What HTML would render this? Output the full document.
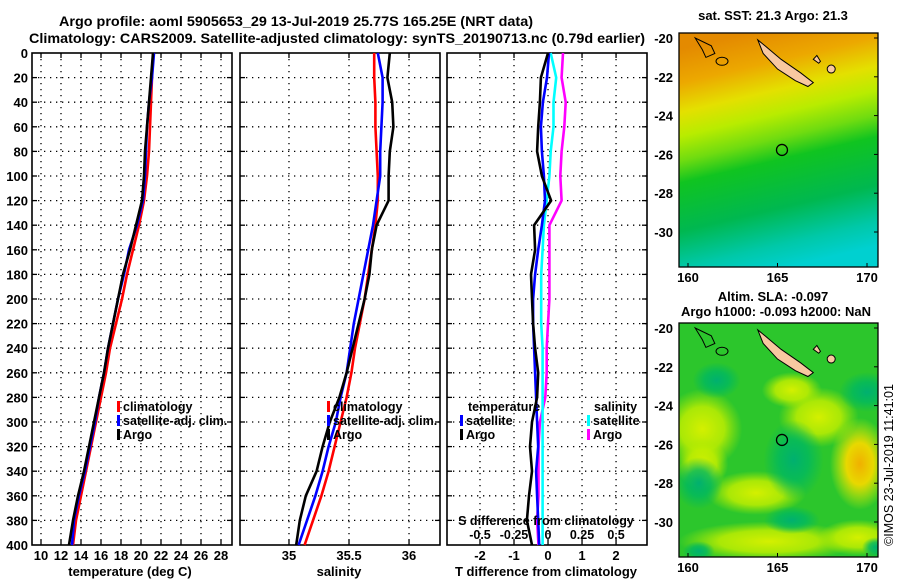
<!DOCTYPE html>
<html><head><meta charset="utf-8"><style>
html,body{margin:0;padding:0;background:#fff;}
svg{display:block;font-family:"Liberation Sans",sans-serif;font-weight:bold;}
</style></head><body>
<svg id="fig" width="900" height="580" viewBox="0 0 900 580" xmlns="http://www.w3.org/2000/svg">
<defs>
<radialGradient id="g1"><stop offset="0" stop-color="#d4f000"/><stop offset="0.55" stop-color="#c0ee00" stop-opacity="0.85"/><stop offset="1" stop-color="#a8e800" stop-opacity="0"/></radialGradient>
<radialGradient id="g2"><stop offset="0" stop-color="#00b070"/><stop offset="0.5" stop-color="#00b860" stop-opacity="0.8"/><stop offset="1" stop-color="#00b860" stop-opacity="0"/></radialGradient>
<radialGradient id="g3"><stop offset="0" stop-color="#f0b000"/><stop offset="0.45" stop-color="#e8d800"/><stop offset="1" stop-color="#d8f000" stop-opacity="0"/></radialGradient>
<linearGradient id="sst" x1="0.35" y1="0" x2="0.55" y2="1">
<stop offset="0" stop-color="#e48a00"/><stop offset="0.14" stop-color="#eca800"/><stop offset="0.26" stop-color="#e4e000"/><stop offset="0.36" stop-color="#b8ec00"/><stop offset="0.46" stop-color="#70dc10"/><stop offset="0.55" stop-color="#10c420"/><stop offset="0.75" stop-color="#00b850"/><stop offset="0.9" stop-color="#00c8a8"/><stop offset="1" stop-color="#00d0d0"/></linearGradient>
<clipPath id="clipTop"><rect x="679" y="33" width="199" height="234"/></clipPath>
<clipPath id="clipBot"><rect x="679" y="323" width="199" height="234"/></clipPath>
</defs>
<text x="296" y="26" text-anchor="middle" font-size="14" textLength="474" lengthAdjust="spacingAndGlyphs">Argo profile: aoml 5905653_29 13-Jul-2019 25.77S 165.25E (NRT data)</text>
<text x="337" y="43" text-anchor="middle" font-size="14" textLength="616" lengthAdjust="spacingAndGlyphs">Climatology: CARS2009. Satellite-adjusted climatology: synTS_20190713.nc (0.79d earlier)</text>
<g id="panels"></g>
<g id="maps"></g>
</svg>
<script>
// ---- data (depth in m) ----
const depths=[0,20,40,60,80,100,120,140,160,180,200,220,240,260,280,300,320,340,360,380,400];
const tempArgo=[21.2,21.0,20.8,20.6,20.4,20.3,20.1,19.5,18.9,18.2,17.7,17.2,16.7,16.3,15.8,15.3,14.8,14.3,13.7,13.2,12.8];
const tempSat=[21.3,21.1,20.8,20.6,20.5,20.4,20.2,19.6,18.8,18.3,17.7,17.2,16.7,16.3,15.8,15.4,14.9,14.4,13.8,13.3,13.1];
const tempClim=[21.2,21.1,21.0,20.9,20.8,20.6,20.3,19.8,19.2,18.6,18.1,17.5,16.9,16.5,16.0,15.5,15.0,14.5,14.0,13.5,13.2];
const salArgo=[35.84,35.82,35.86,35.87,35.84,35.83,35.83,35.73,35.69,35.67,35.63,35.58,35.53,35.48,35.42,35.34,35.28,35.23,35.14,35.09,35.06];
const salSat=[35.74,35.78,35.78,35.77,35.76,35.76,35.73,35.70,35.66,35.62,35.58,35.54,35.51,35.48,35.43,35.39,35.33,35.28,35.22,35.15,35.08];
const salClim=[35.71,35.71,35.72,35.72,35.73,35.74,35.74,35.72,35.69,35.66,35.63,35.59,35.55,35.52,35.48,35.43,35.38,35.33,35.27,35.20,35.13];
const dTArgo=[0,-0.21,-0.24,-0.29,-0.32,-0.18,0.09,-0.41,-0.38,-0.5,-0.47,-0.44,-0.38,-0.29,-0.32,-0.47,-0.53,-0.47,-0.56,-0.62,-0.47];
const dTSat=[0.03,-0.03,-0.15,-0.21,-0.18,-0.12,-0.09,-0.18,-0.29,-0.38,-0.44,-0.44,-0.41,-0.38,-0.35,-0.32,-0.29,-0.35,-0.32,-0.29,-0.26];
const dSSat=[0.02,0.06,0.04,0.04,0.02,0.01,-0.01,-0.03,-0.04,-0.05,-0.05,-0.05,-0.04,-0.04,-0.04,-0.04,-0.04,-0.04,-0.04,-0.04,-0.04];
const dSArgo=[0.11,0.10,0.13,0.12,0.10,0.09,0.10,0.01,0.01,0.01,0.01,0.0,-0.01,-0.01,-0.02,-0.06,-0.07,-0.07,-0.07,-0.08,-0.07];
const tTicks=[10,12,14,16,18,20,22,24,26,28];
const sTicks=[35,35.5,36];
const dTTicks=[-2,-1,0,1,2];
const dSTicks=[-0.5,-0.25,0,0.25,0.5];
const dSTickLabels=["-0.5","-0.25","0","0.25","0.5"];

const NS="http://www.w3.org/2000/svg";
const P=document.getElementById('panels');
function el(tag,attrs,parent,text){const e=document.createElementNS(NS,tag);for(const k in attrs)e.setAttribute(k,attrs[k]);if(text!==undefined)e.textContent=text;(parent||P).appendChild(e);return e;}
const Y0=53,Y1=545;
function yD(d){return Y0+(d/400)*(Y1-Y0);}
function makeX(x0,x1,v0,v1){return v=>x0+(v-v0)/(v1-v0)*(x1-x0);}

const panels=[
 {name:'temperature-panel',x0:32,x1:232,xs:makeX(32,232,9.1,29.1)},
 {name:'salinity-panel',x0:240,x1:440,xs:makeX(240,440,34.592,36.258)},
 {name:'difference-panel',x0:447,x1:647,xs:makeX(447,647,-2.97,2.91)}
];
const dsX=v=>panels[2].xs(v*4);

function frame(p,vgrid){
  const g=el('g',{});
  
  
  depths.forEach(d=>{ if(d>0&&d<400){const y=yD(d);
    const l=el('line',{x1:p.x0,x2:p.x1,y1:y,y2:y,stroke:'#000','stroke-width':1.3,'stroke-dasharray':'1.3,4.7'},g);
    
    el('line',{x1:p.x0,x2:p.x0+5,y1:y,y2:y,stroke:'#000','stroke-width':1.3},g);
    el('line',{x1:p.x1-5,x2:p.x1,y1:y,y2:y,stroke:'#000','stroke-width':1.3},g);}});
  vgrid.forEach(v=>{const x=p.xs(v);
    const l=el('line',{x1:x,x2:x,y1:Y0,y2:Y1,stroke:'#000','stroke-width':1.3,'stroke-dasharray':'1.3,4.7'},g);
    
    el('line',{x1:x,x2:x,y1:Y1-5,y2:Y1,stroke:'#000','stroke-width':1.3},g);
    el('line',{x1:x,x2:x,y1:Y0,y2:Y0+5,stroke:'#000','stroke-width':1.3},g);});
  const r=el('rect',{x:p.x0,y:Y0,width:p.x1-p.x0,height:Y1-Y0,fill:'none',stroke:'#000','stroke-width':1.6},g);
  
  return g;
}
function line(g,vals,xf,color,name){
  const pts=vals.map((v,i)=>xf(v).toFixed(1)+','+yD(depths[i]).toFixed(1)).join(' ');
  const pl=el('polyline',{points:pts,fill:'none',stroke:color,'stroke-width':2.6,'stroke-linejoin':'round'},g);
  
  
}
function legend(g,x,y,color,label,name){
  el('rect',{x:x,y:y-10,width:3,height:11,fill:color},g);
  const t=el('text',{x:x+6,y:y,'font-size':12.5},g,label);
  
  
}
depths.forEach(d=>{const t=el('text',{x:28,y:yD(d)+5,'text-anchor':'end','font-size':13},P,String(d));
  });

let g=frame(panels[0],tTicks);
line(g,tempClim,panels[0].xs,'#ff0000','climatology-temp-line');
line(g,tempSat,panels[0].xs,'#0000ff','satellite-temp-line');
line(g,tempArgo,panels[0].xs,'#000000','argo-temp-line');
tTicks.forEach(v=>{const t=el('text',{x:panels[0].xs(v),y:560,'text-anchor':'middle','font-size':13},P,String(v));
  });
let at=el('text',{x:130,y:576,'text-anchor':'middle','font-size':13},P,'temperature (deg C)');

legend(g,117,411,'#ff0000','climatology','legend-climatology');
legend(g,117,425,'#0000ff','satellite-adj. clim.','legend-satellite-adj');
legend(g,117,439,'#000000','Argo','legend-argo');

g=frame(panels[1],sTicks);
line(g,salClim,panels[1].xs,'#ff0000','climatology-sal-line');
line(g,salSat,panels[1].xs,'#0000ff','satellite-sal-line');
line(g,salArgo,panels[1].xs,'#000000','argo-sal-line');
sTicks.forEach(v=>{const t=el('text',{x:panels[1].xs(v),y:560,'text-anchor':'middle','font-size':13},P,String(v));
  });
at=el('text',{x:339,y:576,'text-anchor':'middle','font-size':13},P,'salinity');

legend(g,327,411,'#ff0000','climatology','legend-climatology-2');
legend(g,327,425,'#0000ff','satellite-adj. clim.','legend-satellite-adj-2');
legend(g,327,439,'#000000','Argo','legend-argo-2');

g=frame(panels[2],dTTicks);
line(g,dSArgo,dsX,'#ff00ff','argo-sal-diff-line');
line(g,dSSat,dsX,'#00ffff','satellite-sal-diff-line');
line(g,dTSat,panels[2].xs,'#0000ff','satellite-temp-diff-line');
line(g,dTArgo,panels[2].xs,'#000000','argo-temp-diff-line');
dTTicks.forEach(v=>{const t=el('text',{x:panels[2].xs(v),y:560,'text-anchor':'middle','font-size':13},P,String(v));
  });
dSTicks.forEach((v,i)=>{const t=el('text',{x:dsX(v),y:539,'text-anchor':'middle','font-size':12.5},P,dSTickLabels[i]);
  });
at=el('text',{x:546,y:525,'text-anchor':'middle','font-size':12.5},P,'S difference from climatology');

at=el('text',{x:546,y:576,'text-anchor':'middle','font-size':13},P,'T difference from climatology');

at=el('text',{x:468,y:411,'font-size':12.5},P,'temperature');

at=el('text',{x:594,y:411,'font-size':12.5},P,'salinity');

legend(g,460,425,'#0000ff','satellite','legend-temp-satellite');
legend(g,460,439,'#000000','Argo','legend-temp-argo');
legend(g,587,425,'#00ffff','satellite','legend-sal-satellite');
legend(g,587,439,'#ff00ff','Argo','legend-sal-argo');

// ---- maps ----
const M=document.getElementById('maps');
const latTicks=[-20,-22,-24,-26,-28,-30];
const lonTicks=[160,165,170];
function map(y0,name,fill,clip,extra){
  const mg=el('g',{},M);
  
  
  const mx=v=>688+(v-160)*17.9, my=v=>y0+5+(-20-v)*19.4;
  const cg=el('g',{'clip-path':'url(#'+clip+')'},mg);
  el('rect',{x:679,y:y0,width:199,height:234,fill:fill},cg);
  if(extra)extra(cg,mx,my);
  el('polygon',{points:[[163.9,-20.1],[164.3,-20.4],[165.2,-21.1],[166.3,-21.8],[167.0,-22.3],[166.7,-22.5],[166.0,-22.2],[165.0,-21.6],[164.2,-20.8]].map(p=>mx(p[0])+','+my(p[1])).join(' '),fill:'#f8c8a0',stroke:'#000','stroke-width':1},cg);
  el('polygon',{points:[[167.2,-20.9],[167.4,-21.2],[167.3,-21.3],[167.0,-21.1]].map(p=>mx(p[0])+','+my(p[1])).join(' '),fill:'#f8c8a0',stroke:'#000','stroke-width':1},cg);
  el('polygon',{points:[[160.4,-20.0],[161.3,-20.4],[161.5,-20.8],[161.0,-21.0],[160.8,-20.6]].map(p=>mx(p[0])+','+my(p[1])).join(' '),fill:'none',stroke:'#000','stroke-width':1},cg);
  el('ellipse',{cx:mx(161.9),cy:my(-21.2),rx:6,ry:4,fill:'none',stroke:'#000','stroke-width':1},cg);
  el('ellipse',{cx:mx(168.0),cy:my(-21.6),rx:4,ry:4,fill:'#f8c8a0',stroke:'#000','stroke-width':1},cg);
  const c=el('circle',{cx:mx(165.25),cy:my(-25.77),r:5.5,fill:'none',stroke:'#000','stroke-width':1.3},mg);
  
  el('rect',{x:679,y:y0,width:199,height:234,fill:'none',stroke:'#000','stroke-width':1.3},mg);
  latTicks.forEach(v=>{const y=my(v);el('line',{x1:874,x2:878,y1:y,y2:y,stroke:'#000'},mg);
    const t=el('text',{x:673,y:y+5,'text-anchor':'end','font-size':13},mg,String(v));
    });
  lonTicks.forEach(v=>{const x=mx(v);el('line',{x1:x,x2:x,y1:y0+230,y2:y0+234,stroke:'#000'},mg);
    const t=el('text',{x:x,y:y0+249,'text-anchor':'middle','font-size':13},mg,String(v));
    });
}
map(33,'sst-map','url(#sst)','clipTop',null);
map(323,'sla-map','#2cc62c','clipBot',(mg,mx,my)=>{
  [[160.8,-25.2,40,40],[167.3,-24.6,40,30],[163.8,-28.5,50,22],[164.5,-31.0,90,20],[160.8,-27.0,26,26],[169.5,-30.8,40,18],[165.8,-23.2,30,18]].forEach(b=>
    el('ellipse',{cx:mx(b[0]),cy:my(b[1]),rx:b[2],ry:b[3],fill:'url(#g1)'},mg));
  [[165.9,-26.8,30,40],[160.6,-28.0,24,26],[170.0,-23.3,28,20],[161.6,-22.7,24,18],[165.8,-29.9,28,14],[160.6,-31.5,16,10],[170.5,-31.3,14,10]].forEach(b=>
    el('ellipse',{cx:mx(b[0]),cy:my(b[1]),rx:b[2],ry:b[3],fill:'url(#g2)'},mg));
  el('ellipse',{cx:mx(169.6),cy:my(-27.0),rx:30,ry:46,fill:'url(#g3)'},mg);
});
let tt=el('text',{x:773,y:20,'text-anchor':'middle','font-size':13},M,'sat. SST: 21.3 Argo: 21.3');

tt=el('text',{x:773,y:301,'text-anchor':'middle','font-size':13},M,'Altim. SLA: -0.097');

tt=el('text',{x:776,y:316,'text-anchor':'middle','font-size':13},M,'Argo h1000: -0.093 h2000: NaN');

tt=el('text',{x:0,y:0,'text-anchor':'middle','font-size':12.5,'font-weight':'normal',transform:'translate(893,465) rotate(-90)'},M,'©IMOS 23-Jul-2019 11:41:01');

</script>
</body></html>
